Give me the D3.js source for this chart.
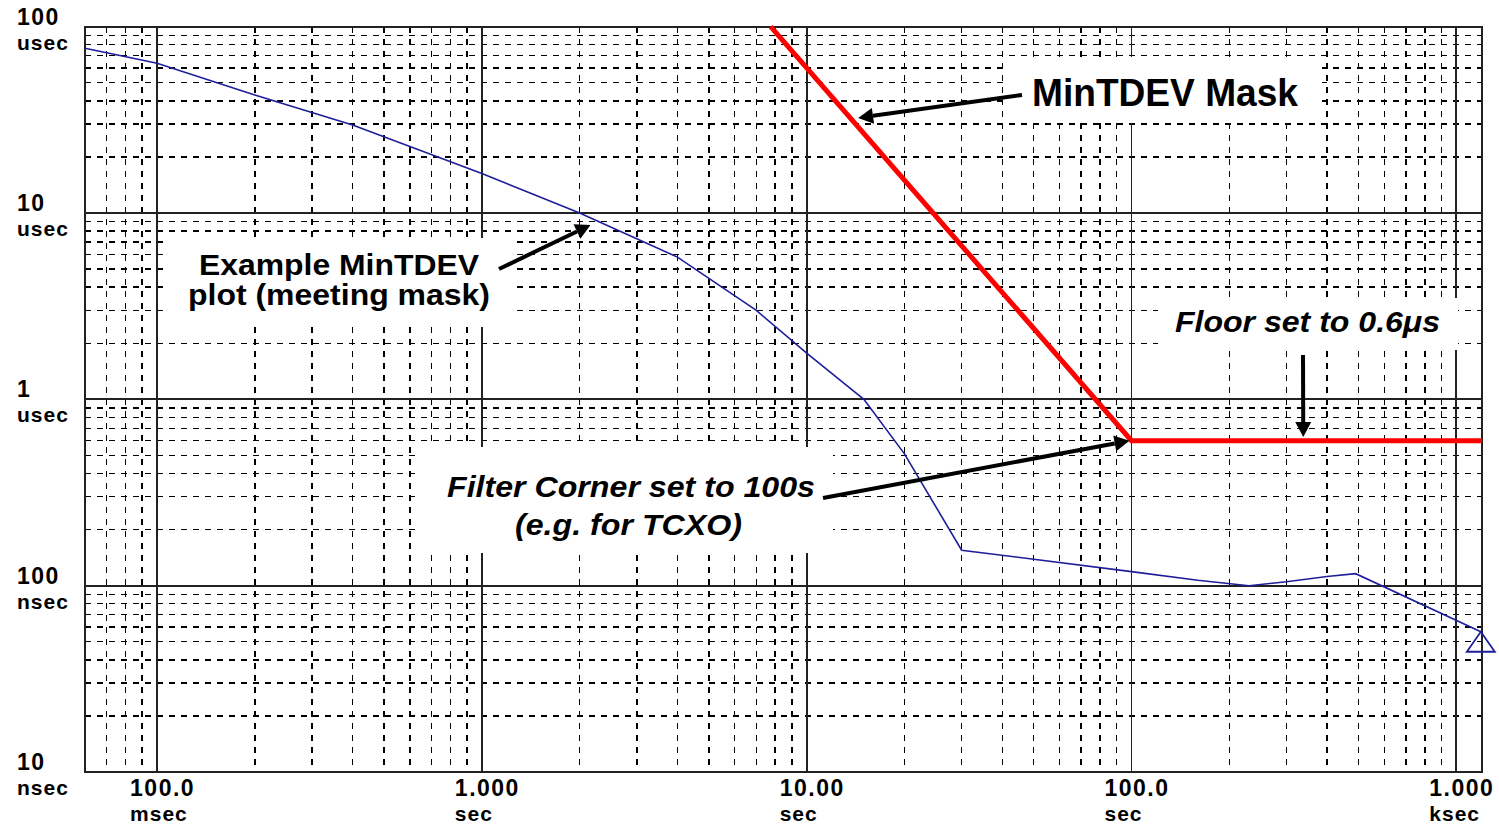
<!DOCTYPE html>
<html>
<head>
<meta charset="utf-8">
<script src="https://cdn.jsdelivr.net/npm/d3@7.9.0/dist/d3.min.js"></script>
<style>
  html, body { margin: 0; padding: 0; background: #fff; }
  svg { display: block; }
  text { font-family: "Liberation Sans", Arial, sans-serif; font-weight: bold; fill: #000; }
</style>
</head>
<body>
<svg id="chart" width="1499" height="824"></svg>
<script>
// --- data (tau in seconds, TDEV in ns) ---
const tau      = [0.06, 0.1, 0.2, 0.4, 1.0, 2.0, 4.0, 7.0, 10, 15, 20, 30, 100, 160, 230, 300, 400, 490, 1190];
const tdevNs   = [76600, 63600, 43000, 29700, 16300, 10000, 5800, 3000, 1770, 1000, 510, 155, 119, 107, 100, 105, 112, 116, 56.6];

// mask: slope -2 down to the 100 s corner, then floor at 0.6 us
const maskTau  = [7.75, 100, 1200];
const maskNs   = [100000, 600, 600];

// axis ticks
const xTickValues = [0.1, 1, 10, 100, 1000];
const xTickNums   = ['100.0', '1.000', '10.00', '100.0', '1.000'];
const xTickUnits  = ['msec', 'sec', 'sec', 'sec', 'ksec'];
const yTickValues = [100000, 10000, 1000, 100, 10];
const yTickNums   = ['100', '10', '1', '100', '10'];
const yTickUnits  = ['usec', 'usec', 'usec', 'nsec', 'nsec'];

const svg = d3.select('#chart');

const x = d3.scaleLog().domain([0.06, 1200]).range([85, 1482]);
const y = d3.scaleLog().domain([10, 100000]).range([772, 26.7]);

const isDecade = v => Math.abs(Math.log10(v) - Math.round(Math.log10(v))) < 1e-9;

// --- grid ---
const grid = svg.append('g').attr('shape-rendering', 'crispEdges');
const xt = x.ticks();
const yt = y.ticks();

grid.selectAll('line.vminor')
  .data(xt.filter(v => !isDecade(v)))
  .join('line')
    .attr('x1', d => x(d)).attr('x2', d => x(d))
    .attr('y1', y.range()[1]).attr('y2', y.range()[0])
    .attr('stroke', '#000').attr('stroke-width', 1.4)
    .attr('stroke-dasharray', '6,6');

grid.selectAll('line.hminor')
  .data(yt.filter(v => !isDecade(v)))
  .join('line')
    .attr('y1', d => y(d)).attr('y2', d => y(d))
    .attr('x1', x.range()[0]).attr('x2', x.range()[1])
    .attr('stroke', '#000').attr('stroke-width', 1.4)
    .attr('stroke-dasharray', '6,6');

grid.selectAll('line.vmajor')
  .data(xt.filter(isDecade))
  .join('line')
    .attr('x1', d => x(d)).attr('x2', d => x(d))
    .attr('y1', y.range()[1]).attr('y2', y.range()[0])
    .attr('stroke', '#222').attr('stroke-width', 1.8);

grid.selectAll('line.hmajor')
  .data(yt.filter(isDecade))
  .join('line')
    .attr('y1', d => y(d)).attr('y2', d => y(d))
    .attr('x1', x.range()[0]).attr('x2', x.range()[1])
    .attr('stroke', '#222').attr('stroke-width', 1.8);

// frame
svg.append('rect')
  .attr('shape-rendering', 'crispEdges')
  .attr('x', x.range()[0]).attr('y', y.range()[1])
  .attr('width', x.range()[1] - x.range()[0])
  .attr('height', y.range()[0] - y.range()[1])
  .attr('fill', 'none').attr('stroke', '#222').attr('stroke-width', 2);

// --- tick labels ---
const xl = svg.append('g');
xTickValues.forEach((v, i) => {
  xl.append('text').attr('x', x(v) - 27).attr('y', 796)
    .attr('font-size', 23).attr('letter-spacing', 1.5).text(xTickNums[i]);
  xl.append('text').attr('x', x(v) - 27).attr('y', 821)
    .attr('font-size', 21).attr('letter-spacing', 1).text(xTickUnits[i]);
});
const yl = svg.append('g');
yTickValues.forEach((v, i) => {
  yl.append('text').attr('x', 17).attr('y', y(v) - 2)
    .attr('font-size', 23).attr('letter-spacing', 1.5).text(yTickNums[i]);
  yl.append('text').attr('x', 17).attr('y', y(v) + 23)
    .attr('font-size', 21).attr('letter-spacing', 1).text(yTickUnits[i]);
});

// --- white label boxes (drawn over grid) ---
const boxes = [
  [1003, 57, 319, 66],
  [165, 238, 352, 89],
  [418, 447, 415, 106],
  [1158, 298, 300, 52]
];
svg.append('g').selectAll('rect')
  .data(boxes)
  .join('rect')
    .attr('x', d => d[0]).attr('y', d => d[1])
    .attr('width', d => d[2]).attr('height', d => d[3])
    .attr('fill', '#fff');

// --- measured curve ---
const pts = tau.map((t, i) => [t, tdevNs[i]]);
const line = d3.line().x(d => x(d[0])).y(d => y(d[1]));

svg.append('path')
  .datum(pts)
  .attr('d', line)
  .attr('fill', 'none')
  .attr('stroke', '#1e1e9c')
  .attr('stroke-width', 1.6);

// triangle marker on last point
const last = pts[pts.length - 1];
const lx = x(last[0]), ly = y(last[1]);
svg.append('path')
  .attr('d', `M${lx},${ly} L${lx + 14},${ly + 20} L${lx - 14},${ly + 20} Z`)
  .attr('fill', 'none').attr('stroke', '#1e1e9c').attr('stroke-width', 1.8);

// --- mask ---
const maskPts = maskTau.map((t, i) => [t, maskNs[i]]);
svg.append('path')
  .datum(maskPts)
  .attr('d', line)
  .attr('fill', 'none')
  .attr('stroke', '#ff0000')
  .attr('stroke-width', 5)
  .attr('stroke-linejoin', 'miter');

// --- arrows ---
function arrow(x1, y1, x2, y2) {
  const a = Math.atan2(y2 - y1, x2 - x1);
  const hl = 15, hw = 8;
  const bx = x2 - hl * Math.cos(a), by = y2 - hl * Math.sin(a);
  svg.append('line')
    .attr('x1', x1).attr('y1', y1).attr('x2', bx).attr('y2', by)
    .attr('stroke', '#000').attr('stroke-width', 4);
  const px = -Math.sin(a) * hw, py = Math.cos(a) * hw;
  svg.append('path')
    .attr('d', `M${x2},${y2} L${bx + px},${by + py} L${bx - px},${by - py} Z`)
    .attr('fill', '#000');
}
arrow(1022, 95, x(14.4), y(32400));
arrow(499, 269, x(2.16), y(8630));
arrow(823, 498, x(98.6), y(600));
arrow(1303, 355, x(338), y(628));

// --- annotation text ---
const ann = svg.append('g');
ann.append('text').attr('x', 1032).attr('y', 106)
  .attr('font-size', 38).attr('textLength', 266).attr('lengthAdjust', 'spacingAndGlyphs')
  .text('MinTDEV Mask');
ann.append('text').attr('x', 199).attr('y', 275)
  .attr('font-size', 30).attr('textLength', 280).attr('lengthAdjust', 'spacingAndGlyphs')
  .text('Example MinTDEV');
ann.append('text').attr('x', 188).attr('y', 305)
  .attr('font-size', 30).attr('textLength', 302).attr('lengthAdjust', 'spacingAndGlyphs')
  .text('plot (meeting mask)');
ann.append('text').attr('x', 447).attr('y', 497)
  .attr('font-size', 30).attr('font-style', 'italic')
  .attr('textLength', 368).attr('lengthAdjust', 'spacingAndGlyphs')
  .text('Filter Corner set to 100s');
ann.append('text').attr('x', 515).attr('y', 535)
  .attr('font-size', 30).attr('font-style', 'italic')
  .attr('textLength', 227).attr('lengthAdjust', 'spacingAndGlyphs')
  .text('(e.g. for TCXO)');
ann.append('text').attr('x', 1175).attr('y', 332)
  .attr('font-size', 30).attr('font-style', 'italic')
  .attr('textLength', 265).attr('lengthAdjust', 'spacingAndGlyphs')
  .text('Floor set to 0.6μs');
</script>
</body>
</html>
